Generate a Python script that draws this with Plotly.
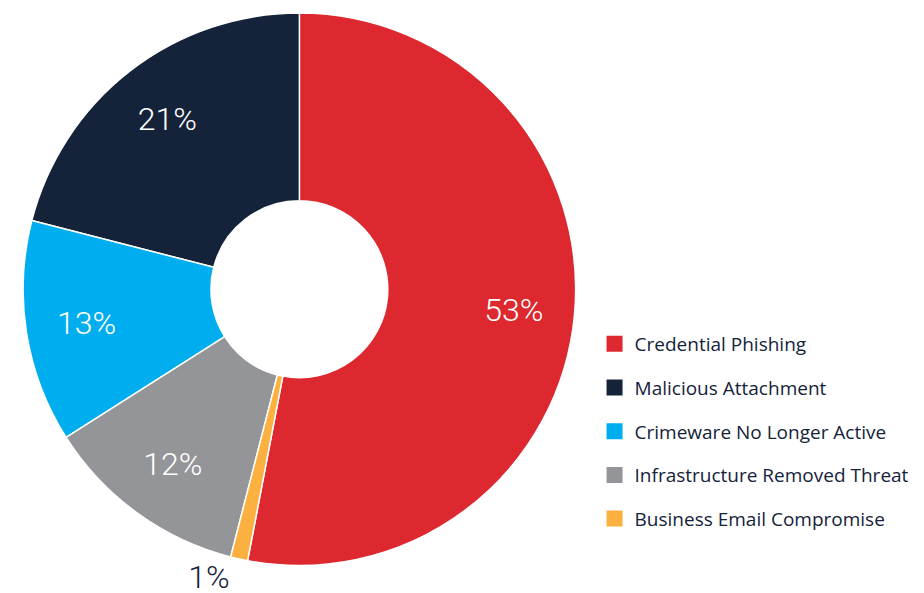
import plotly.graph_objects as go

# slices in drawing order (counterclockwise from the end of Credential Phishing)
labels = [
    "Credential Phishing",
    "Malicious Attachment",
    "Crimeware No Longer Active",
    "Infrastructure Removed Threat",
    "Business Email Compromise",
]
values = [53, 21, 13, 12, 1]
colors = ["#DC282E", "#14233A", "#00AEEF", "#939598", "#FBB040"]

W, H = 924, 593
cx, cy, r = 290, 281.5, 281.5
dom = dict(x=[max(0, (cx - r) / W), min(1, (cx + r) / W)],
           y=[max(0, (H - cy - r) / H), min(1, (H - cy + r) / H)])
tpos = ["inside", "inside", "inside", "inside", "outside"]
font = dict(family="Roboto", size=32, weight=300)

fig = go.Figure()
# coloured donut
fig.add_trace(go.Pie(
    labels=labels, values=values, sort=False,
    direction="counterclockwise", rotation=0, hole=0.32,
    marker=dict(colors=colors, line=dict(color="white", width=1.5)),
    texttemplate="%{percent:.0%}",
    textposition=["none", "none", "none", "none", "outside"],
    textfont=dict(font, color="rgba(0,0,0,0)"),
    showlegend=False, hoverinfo="skip", domain=dom,
))
# transparent ring carrying the labels further out
fig.add_trace(go.Pie(
    labels=labels, values=values, sort=False,
    direction="counterclockwise", rotation=0, hole=0.56,
    marker=dict(colors=["rgba(0,0,0,0)"] * len(values),
                line=dict(width=0)),
    texttemplate="%{percent:.0%}",
    textposition=tpos,
    insidetextorientation="horizontal",
    textfont=dict(font, color=["white", "white", "white", "white", "#14233A"]),
    showlegend=False, domain=dom,
))

# legend entries with larger square swatches
for i, (lab, col) in enumerate(zip(labels, colors)):
    fig.add_trace(go.Scatter(
        x=[None], y=[None], mode="markers", name=lab,
        legendgroup=str(i),
        marker=dict(symbol="square", size=16, color=col),
    ))

fig.update_layout(
    width=W, height=H,
    margin=dict(l=0, r=0, t=0, b=0),
    paper_bgcolor="white",
    plot_bgcolor="white",
    xaxis=dict(visible=False),
    yaxis=dict(visible=False),
    legend=dict(
        x=0.634, y=0.464, xanchor="left", yanchor="top",
        font=dict(family="Open Sans", size=19, color="#14233A"),
        tracegroupgap=16,
        bgcolor="rgba(0,0,0,0)",
    ),
)

fig.write_html("out.html")
